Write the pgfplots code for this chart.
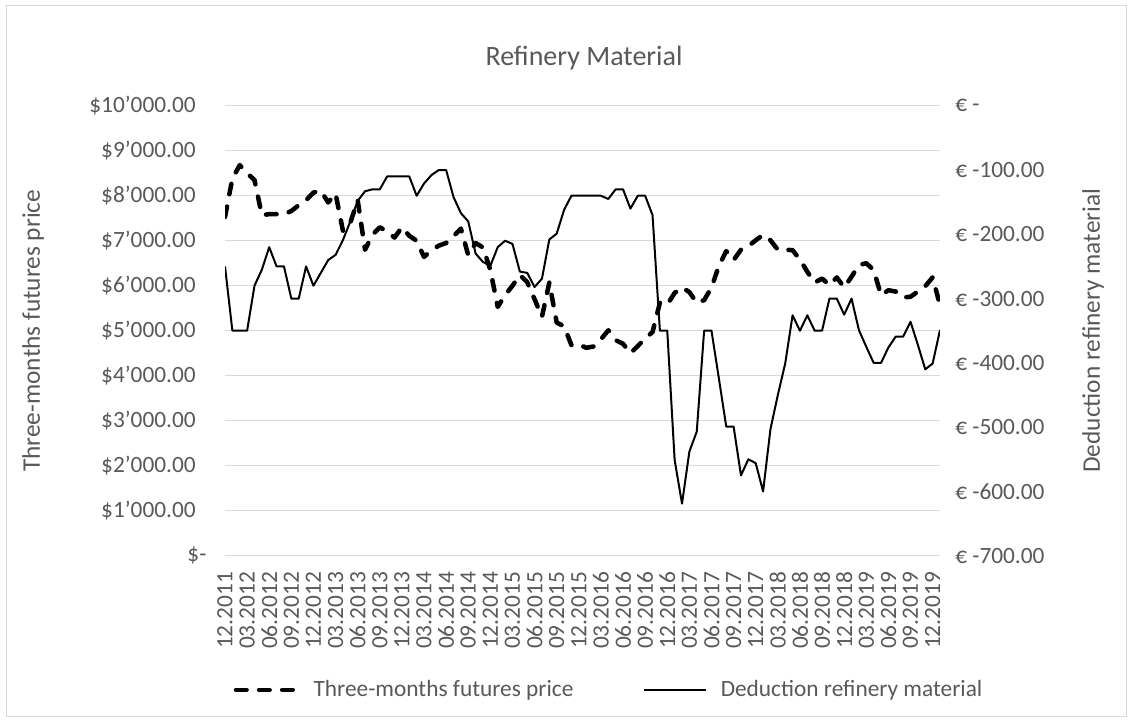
\documentclass[border=0pt]{standalone}
\usepackage{fontspec}
\setmainfont{Carlito}
\usepackage{pgfplots}
\pgfplotsset{compat=1.18}
\definecolor{txt}{RGB}{89,89,89}
\definecolor{grd}{RGB}{217,217,217}
\pgfplotstableread{
i p
0 7530
1 8380
2 8680
3 8500
4 8350
5 7570
6 7590
7 7590
8 7590
9 7660
10 7790
11 7900
12 8070
13 8110
14 7850
15 8050
16 7220
17 7400
18 7900
19 6800
20 7130
21 7300
22 7200
23 7070
24 7300
25 7110
26 7000
27 6640
28 6790
29 6890
30 6950
31 7100
32 7270
33 6680
34 6950
35 6850
36 6350
37 5530
38 5790
39 6000
40 6240
41 6080
42 5700
43 5310
44 6070
45 5180
46 5100
47 4680
48 4700
49 4620
50 4650
51 4810
52 5010
53 4790
54 4710
55 4500
56 4660
57 4830
58 4970
59 5620
60 5580
61 5840
62 5960
63 5860
64 5620
65 5680
66 5960
67 6440
68 6770
69 6570
70 6800
71 6880
72 7010
73 7130
74 7010
75 6800
76 6800
77 6790
78 6580
79 6310
80 6070
81 6160
82 6015
83 6185
84 5960
85 6200
86 6460
87 6500
88 6350
89 5790
90 5900
91 5870
92 5740
93 5755
94 5870
95 5990
96 6185
97 5570
}\futures
\pgfplotstableread{
i d
0 -250
1 -350
2 -350
3 -350
4 -280
5 -255
6 -220
7 -250
8 -250
9 -300
10 -300
11 -250
12 -280
13 -260
14 -240
15 -232
16 -209
17 -180
18 -148
19 -133
20 -130
21 -130
22 -110
23 -110
24 -110
25 -110
26 -140
27 -121
28 -108
29 -100
30 -100
31 -142
32 -167
33 -180
34 -230
35 -243
36 -249
37 -220
38 -210
39 -215
40 -258
41 -260
42 -282
43 -269
44 -208
45 -199
46 -162
47 -140
48 -140
49 -140
50 -140
51 -140
52 -145
53 -130
54 -130
55 -160
56 -140
57 -140
58 -170
59 -350
60 -350
61 -551
62 -619
63 -538
64 -507
65 -350
66 -350
67 -424
68 -499
69 -499
70 -575
71 -550
72 -556
73 -600
74 -503
75 -450
76 -401
77 -326
78 -350
79 -326
80 -350
81 -350
82 -300
83 -300
84 -325
85 -300
86 -349
87 -375
88 -400
89 -400
90 -376
91 -359
92 -359
93 -336
94 -372
95 -410
96 -401
97 -349
}\deduction
\pgfplotsset{
  dashser/.style={black, line width=3.4pt, line cap=round, line join=round, dash pattern=on 7.9pt off 9.4pt},
  solidser/.style={black, line width=1.5pt, line join=round},
  base/.style={
    at={(168.75pt,124.7pt)}, anchor=south west,
    scale only axis, width=536.25pt, height=337.5pt,
    xmin=0, xmax=97,
    axis line style={draw=none},
    tick style={draw=none},
    major tick length=0pt,
    scaled y ticks=false, scaled x ticks=false,
    tick label style={txt, font=\fontsize{17.5}{21}\selectfont},
  },
}
\begin{document}
\begin{tikzpicture}
\useasboundingbox (0,0) rectangle (849pt,541.5pt);
\fill[white] (0,0) rectangle (849pt,541.5pt);
\draw[grd, line width=0.75pt] (4.5pt,4.5pt) rectangle (844.5pt,537pt);
\begin{axis}[
  base,
  ymin=0, ymax=10000,
  xtick={0,3,...,96},
  xticklabels={12.2011,03.2012,06.2012,09.2012,12.2012,03.2013,06.2013,09.2013,12.2013,03.2014,06.2014,09.2014,12.2014,03.2015,06.2015,09.2015,12.2015,03.2016,06.2016,09.2016,12.2016,03.2017,06.2017,09.2017,12.2017,03.2018,06.2018,09.2018,12.2018,03.2019,06.2019,09.2019,12.2019},
  ytick={0,1000,...,10000},
  yticklabels={\$-\kern-8pt,\$1’000.00,\$2’000.00,\$3’000.00,\$4’000.00,\$5’000.00,\$6’000.00,\$7’000.00,\$8’000.00,\$9’000.00,\$10’000.00},
  ymajorgrids,
  grid style={grd, line width=1.1pt},
  yticklabel style={anchor=east, inner sep=0pt, xshift=-21.75pt},
  xticklabel style={yshift=-12pt, rotate=90, anchor=east, inner sep=0pt},
  ylabel={Three-months futures price},
  every axis y label/.style={at={(axis description cs:-0.2685,0.5)}, rotate=90, anchor=center, txt, font=\fontsize{19}{23}\selectfont},
]
\addplot[dashser] table[x=i, y=p] {\futures};
\end{axis}
\begin{axis}[
  base,
  ymin=-700, ymax=0,
  xtick=\empty,
  ytick={-700,-600,...,0},
  yticklabels={€ -700.00,€ -600.00,€ -500.00,€ -400.00,€ -300.00,€ -200.00,€ -100.00,€ -},
  yticklabel pos=right,
  yticklabel style={anchor=west, inner sep=0pt, xshift=11.25pt},
  ylabel={Deduction refinery material},
  every axis y label/.style={at={(axis description cs:1.214,0.5)}, rotate=90, anchor=center, txt, font=\fontsize{19}{23}\selectfont},
  legend style={at={(axis description cs:0.5357,-0.298)}, anchor=center, draw=none, fill=none,
    text=txt, font=\fontsize{17.5}{21}\selectfont, legend columns=2,
    nodes={inner sep=0pt},
    /tikz/every odd column/.append style={column sep=10pt},
    /tikz/every even column/.append style={column sep=52.5pt}},
  legend image code/.code={\draw[#1] (0pt,0pt) -- (46.5pt,0pt);},
]
\addlegendimage{dashser}
\addlegendentry{Three-months futures price}
\addplot[solidser] table[x=i, y=d] {\deduction};
\addlegendentry{Deduction refinery material}
\end{axis}
\node[txt, font=\fontsize{21}{25}\selectfont] at (438pt,498pt) {Refinery Material};
\end{tikzpicture}
\end{document}
